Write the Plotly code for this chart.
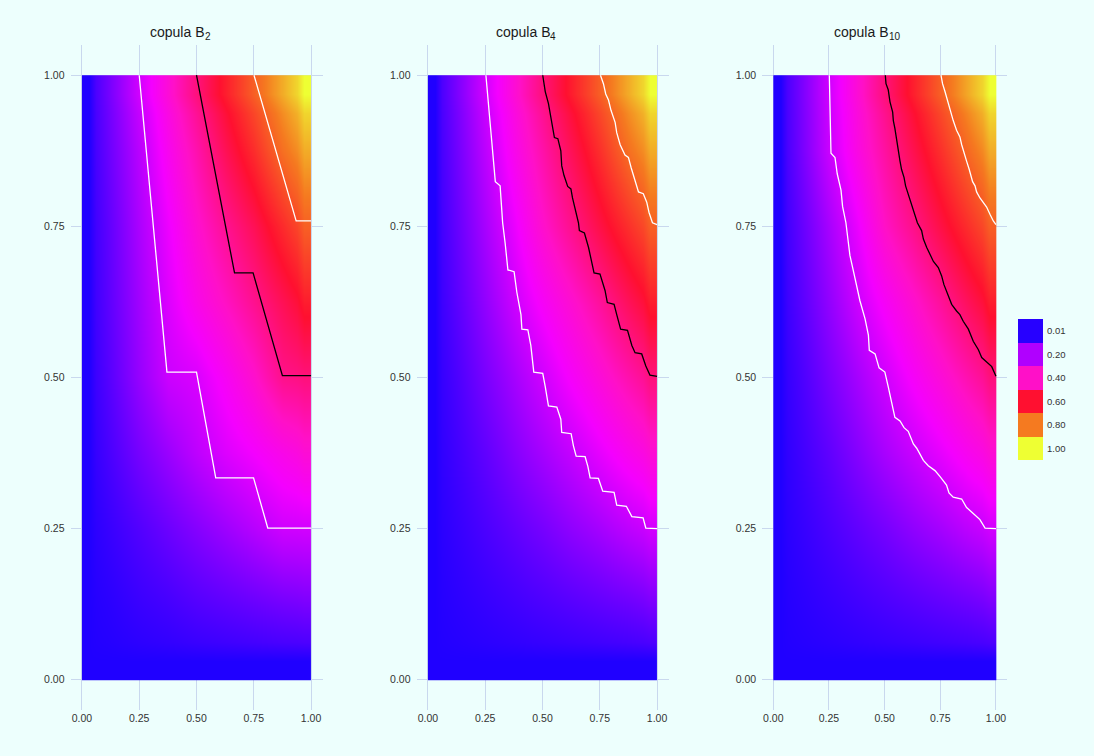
import plotly.graph_objects as go

W, H = 1094, 756
BG = "#EDFFFD"
GRID = "#C9D8EE"
FONT = "Liberation Sans, Arial, sans-serif"

# ---------------- data ----------------
u_nodes = [0, 0.125, 0.25, 0.375, 0.5, 0.625, 0.75, 0.875, 1]
v_nodes = [0, 0.125, 0.25, 0.375, 0.5, 0.625, 0.75, 0.875, 1]

# copula values C(u, v); rows = v (bottom -> top), columns = u (left -> right)
z_B2 = [
    [0, 0, 0, 0, 0, 0, 0, 0, 0],
    [0, .015, .035, .05, .07, .085, .10, .115, .125],
    [0, .035, .07, .105, .14, .175, .21, .245, .25],
    [0, .06, .12, .17, .22, .265, .30, .34, .375],
    [0, .08, .165, .24, .26, .32, .39, .48, .5],
    [0, .09, .18, .265, .34, .405, .475, .55, .625],
    [0, .095, .195, .29, .385, .47, .55, .65, .75],
    [0, .11, .215, .33, .435, .55, .655, .78, .875],
    [0, .125, .25, .375, .5, .625, .75, .875, 1],
]
z_B4 = [
    [0, 0, 0, 0, 0, 0, 0, 0, 0],
    [0, .015, .03, .045, .06, .075, .09, .105, .125],
    [0, .03, .06, .09, .12, .155, .185, .22, .25],
    [0, .045, .09, .14, .185, .23, .28, .33, .375],
    [0, .06, .125, .185, .245, .31, .37, .435, .5],
    [0, .08, .16, .24, .315, .385, .46, .545, .625],
    [0, .095, .19, .285, .39, .48, .57, .66, .75],
    [0, .11, .22, .335, .44, .55, .66, .78, .875],
    [0, .125, .25, .375, .5, .625, .75, .875, 1],
]
z_B10 = [
    [0, 0, 0, 0, 0, 0, 0, 0, 0],
    [0, .015, .03, .045, .06, .075, .09, .105, .125],
    [0, .03, .06, .09, .12, .155, .185, .22, .25],
    [0, .045, .09, .14, .19, .235, .28, .33, .375],
    [0, .06, .125, .185, .245, .31, .37, .435, .5],
    [0, .08, .16, .24, .315, .385, .46, .545, .625],
    [0, .095, .19, .285, .40, .48, .57, .66, .75],
    [0, .12, .24, .35, .45, .555, .66, .77, .875],
    [0, .125, .25, .375, .5, .625, .75, .875, 1],
]

# contour lines (level 0.25 white, 0.5 black, 0.75 white)
B2_c25_u = [0.25, 0.371, 0.50, 0.584, 0.749, 0.811, 1.0]
B2_c25_v = [1.0, 0.509, 0.509, 0.334, 0.334, 0.251, 0.251]
B2_c50_u = [0.50, 0.666, 0.747, 0.875, 1.0]
B2_c50_v = [1.0, 0.673, 0.673, 0.503, 0.503]
B2_c75_u = [0.751, 0.935, 1.0]
B2_c75_v = [1.0, 0.759, 0.759]

B4_c25_u = [0.253, 0.265, 0.282, 0.294, 0.315, 0.326, 0.337, 0.349, 0.376, 0.388, 0.406, 0.410,
            0.436, 0.449, 0.462, 0.501, 0.512, 0.526, 0.5625, 0.580, 0.584, 0.625, 0.635, 0.647,
            0.686, 0.698, 0.708, 0.744, 0.763, 0.8125, 0.824, 0.866, 0.890, 0.939, 0.951, 1.0]
B4_c25_v = [1.0, 0.946, 0.878, 0.824, 0.817, 0.756, 0.722, 0.678, 0.675, 0.641, 0.604, 0.580,
            0.579, 0.553, 0.509, 0.507, 0.485, 0.453, 0.451, 0.431, 0.409, 0.407, 0.387, 0.370,
            0.369, 0.353, 0.334, 0.333, 0.312, 0.310, 0.289, 0.287, 0.270, 0.268, 0.251, 0.250]
B4_c50_u = [0.501, 0.512, 0.526, 0.541, 0.552, 0.567, 0.580, 0.584, 0.594, 0.610, 0.624, 0.631,
            0.645, 0.657, 0.661, 0.683, 0.701, 0.711, 0.725, 0.751, 0.773, 0.783, 0.8125, 0.824,
            0.841, 0.871, 0.890, 0.904, 0.933, 0.951, 0.969, 1.0]
B4_c50_v = [1.0, 0.973, 0.953, 0.919, 0.897, 0.895, 0.875, 0.850, 0.834, 0.816, 0.812, 0.797,
            0.776, 0.756, 0.743, 0.739, 0.715, 0.696, 0.673, 0.671, 0.644, 0.624, 0.621, 0.604,
            0.580, 0.578, 0.553, 0.541, 0.539, 0.519, 0.504, 0.502]
B4_c75_u = [0.753, 0.766, 0.776, 0.788, 0.799, 0.817, 0.824, 0.839, 0.860, 0.875, 0.887, 0.904,
            0.919, 0.940, 0.955, 0.965, 0.980, 1.0]
B4_c75_v = [1.0, 0.986, 0.969, 0.959, 0.942, 0.922, 0.905, 0.885, 0.868, 0.864, 0.847, 0.824,
            0.807, 0.804, 0.790, 0.773, 0.756, 0.753]

B10_c25_u = [0.2515, 0.254, 0.259, 0.277, 0.287, 0.304, 0.311, 0.326, 0.337, 0.344, 0.356, 0.374,
             0.389, 0.412, 0.427, 0.431, 0.457, 0.475, 0.501, 0.516, 0.527, 0.546, 0.569, 0.587,
             0.606, 0.629, 0.644, 0.674, 0.696, 0.726, 0.749, 0.778, 0.789, 0.808, 0.846, 0.868,
             0.898, 0.928, 0.951, 1.0]
B10_c25_v = [1.0, 0.959, 0.871, 0.864, 0.837, 0.810, 0.783, 0.756, 0.722, 0.702, 0.682, 0.654,
             0.627, 0.597, 0.570, 0.545, 0.539, 0.516, 0.509, 0.485, 0.465, 0.434, 0.428, 0.417,
             0.411, 0.390, 0.383, 0.363, 0.354, 0.346, 0.336, 0.322, 0.309, 0.302, 0.299, 0.285,
             0.275, 0.265, 0.251, 0.250]
B10_c50_u = [0.503, 0.506, 0.516, 0.524, 0.536, 0.539, 0.546, 0.554, 0.561, 0.569, 0.576, 0.587,
             0.594, 0.606, 0.618, 0.636, 0.647, 0.666, 0.674, 0.689, 0.704, 0.719, 0.741, 0.756,
             0.766, 0.786, 0.801, 0.823, 0.838, 0.853, 0.876, 0.898, 0.921, 0.936, 0.958, 0.981, 1.0]
B10_c50_v = [1.0, 0.986, 0.976, 0.956, 0.939, 0.925, 0.912, 0.892, 0.871, 0.858, 0.844, 0.831,
             0.817, 0.804, 0.790, 0.770, 0.756, 0.743, 0.729, 0.715, 0.702, 0.692, 0.682, 0.668,
             0.654, 0.634, 0.621, 0.610, 0.604, 0.593, 0.580, 0.560, 0.546, 0.533, 0.526, 0.518, 0.502]
B10_c75_u = [0.753, 0.760, 0.771, 0.786, 0.801, 0.808, 0.823, 0.838, 0.846, 0.856, 0.868, 0.880,
             0.888, 0.895, 0.906, 0.913, 0.928, 0.943, 0.958, 0.973, 0.988, 1.0]
B10_c75_v = [1.0, 0.986, 0.973, 0.953, 0.932, 0.925, 0.909, 0.898, 0.885, 0.871, 0.858, 0.844,
             0.834, 0.824, 0.817, 0.807, 0.797, 0.789, 0.782, 0.770, 0.759, 0.753]

title_main = ["copula B", "copula B", "copula B"]
title_sub = ["2", "4", "10"]
tick_vals = [0, 0.25, 0.5, 0.75, 1]
tick_text = ["0.00", "0.25", "0.50", "0.75", "1.00"]
legend_vals = [0.01, 0.20, 0.40, 0.60, 0.80, 1.00]
legend_text = ["0.01", "0.20", "0.40", "0.60", "0.80", "1.00"]

colorscale = [
    [0.0, "#2000FF"],
    [0.2, "#B000FF"],
    [0.3, "#F400FF"],
    [0.4, "#FF10C8"],
    [0.6, "#FF1030"],
    [0.8, "#F57A20"],
    [1.0, "#EEFF33"],
]

# ---------------- layout geometry (pixels) ----------------
panels_px = [(70.5, 322.5), (416.5, 668.5), (762.2, 1007.1)]
title_split_px = [204, 549.5, 888]
y_top_px, y_bot_px = 45, 710


def edges(nodes):
    mids = [(a + b) / 2 for a, b in zip(nodes[:-1], nodes[1:])]
    return [nodes[0]] + mids + [nodes[-1]]


fig = go.Figure()

zs = [z_B2, z_B4, z_B10]
contours = [
    [(B2_c25_u, B2_c25_v, "white"), (B2_c50_u, B2_c50_v, "black"), (B2_c75_u, B2_c75_v, "white")],
    [(B4_c25_u, B4_c25_v, "white"), (B4_c50_u, B4_c50_v, "black"), (B4_c75_u, B4_c75_v, "white")],
    [(B10_c25_u, B10_c25_v, "white"), (B10_c50_u, B10_c50_v, "black"), (B10_c75_u, B10_c75_v, "white")],
]

for i in range(3):
    sfx = "" if i == 0 else str(i + 1)
    fig.add_trace(go.Heatmap(
        x=edges(u_nodes), y=edges(v_nodes), z=zs[i],
        colorscale=colorscale, zmin=0, zmax=1, zsmooth="best",
        showscale=False, hoverinfo="skip",
        xaxis="x" + sfx, yaxis="y" + sfx,
    ))
    for cu, cv, col in contours[i]:
        fig.add_trace(go.Scatter(
            x=cu, y=cv, mode="lines", line=dict(color=col, width=1.3),
            showlegend=False, hoverinfo="skip",
            xaxis="x" + sfx, yaxis="y" + sfx,
        ))

# legend as a small heatmap
fig.add_trace(go.Heatmap(
    x=[0], y=list(range(len(legend_vals))), z=[[v] for v in legend_vals],
    colorscale=colorscale, zmin=0, zmax=1, showscale=False, hoverinfo="skip",
    xaxis="x4", yaxis="y4",
))

axis_font = dict(family=FONT, size=10.5, color="#333333")
layout = dict(
    width=W, height=H,
    paper_bgcolor=BG, plot_bgcolor=BG,
    margin=dict(l=0, r=0, t=0, b=0),
    showlegend=False,
    font=dict(family=FONT),
)
for i in range(3):
    sfx = "" if i == 0 else str(i + 1)
    x0, x1 = panels_px[i]
    layout["xaxis" + sfx] = dict(
        domain=[x0 / W, x1 / W], range=[-0.05, 1.05], anchor="y" + sfx,
        tickvals=tick_vals, ticktext=tick_text, tickfont=axis_font,
        showgrid=True, gridcolor=GRID, gridwidth=1, zeroline=False,
        showline=False, ticks="", ticklabelstandoff=0,
    )
    layout["yaxis" + sfx] = dict(
        domain=[1 - y_bot_px / H, 1 - y_top_px / H], range=[-0.05, 1.05], anchor="x" + sfx,
        tickvals=tick_vals, ticktext=tick_text, tickfont=axis_font,
        showgrid=True, gridcolor=GRID, gridwidth=1, zeroline=False,
        showline=False, ticks="", ticklabelstandoff=5,
    )

layout["xaxis4"] = dict(domain=[1018 / W, 1043 / W], range=[-0.5, 0.5], anchor="y4",
                        showgrid=False, zeroline=False, showticklabels=False, ticks="")
layout["yaxis4"] = dict(domain=[1 - 460 / H, 1 - 319 / H], range=[5.5, -0.5], anchor="x4",
                        side="right", tickvals=list(range(len(legend_vals))), ticktext=legend_text,
                        tickfont=dict(family=FONT, size=9.5, color="#333333"),
                        showgrid=False, zeroline=False, ticks="", ticklabelstandoff=3)

annotations = []
for i in range(3):
    annotations.append(dict(
        text=title_main[i], x=title_split_px[i] / W, y=1 - 32 / H, xref="paper", yref="paper",
        xanchor="right", yanchor="middle", showarrow=False, borderpad=0, borderwidth=0,
        font=dict(family=FONT, size=14, color="#1a1a1a")))
    annotations.append(dict(
        text=title_sub[i], x=(title_split_px[i] + 0.5) / W, y=1 - 36.5 / H, xref="paper", yref="paper",
        xanchor="left", yanchor="middle", showarrow=False, borderpad=0, borderwidth=0,
        font=dict(family=FONT, size=10, color="#1a1a1a")))
layout["annotations"] = annotations

fig.update_layout(**layout)
fig.write_html(
    "out.html",
    config={"displayModeBar": False},
    post_script="document.body.style.margin='0';document.body.style.background='" + BG + "';",
)
